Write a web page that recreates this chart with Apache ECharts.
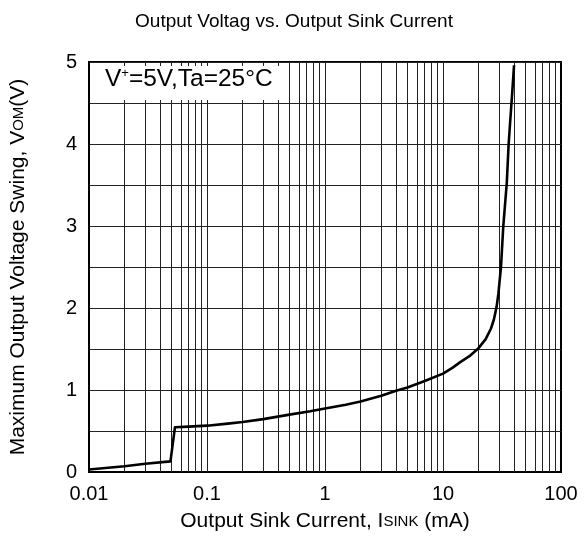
<!DOCTYPE html>
<html><head><meta charset="utf-8">
<script src="https://cdn.jsdelivr.net/npm/echarts@6/dist/echarts.min.js"></script>
<style>html,body{margin:0;padding:0;background:#fff}#c{width:584px;height:537px}</style>
</head><body><div id="c"></div>
<script>
const currentMA = [0.01, 0.02, 0.03, 0.049, 0.0535, 0.07, 0.1, 0.15, 0.2, 0.3, 0.5, 0.75, 1, 1.5, 2, 3, 4, 5, 7, 10, 12, 14, 17, 20, 23, 25.5, 27, 28.5, 29.5, 31, 32.4, 33.5, 34.7, 36, 37, 38.5, 40];
const voltageV  = [0.03, 0.07, 0.10, 0.13, 0.545, 0.553, 0.565, 0.59, 0.61, 0.645, 0.70, 0.74, 0.775, 0.82, 0.86, 0.93, 0.99, 1.03, 1.11, 1.20, 1.27, 1.34, 1.42, 1.51, 1.62, 1.75, 1.86, 2.02, 2.18, 2.50, 2.99, 3.25, 3.52, 4.00, 4.25, 4.60, 4.96];
const minorX = [];
[0.01, 0.1, 1, 10].forEach(d => { for (let k = 2; k <= 9; k++) minorX.push(+(d * k).toPrecision(3)); });
[0.1, 1, 10].forEach(v => minorX.push(v));
const xTickLabels = ['0.01', '0.1', '1', '10', '100'];

const chart = echarts.init(document.getElementById('c'), null, {renderer: 'canvas'});
const font = 'Liberation Sans, Arial, sans-serif';
chart.setOption({
  animation: false,
  backgroundColor: '#fff',
  title: {
    text: 'Output Voltag vs. Output Sink Current',
    left: 289, top: 7, textAlign: 'center',
    textStyle: {fontFamily: font, fontSize: 19, fontWeight: 'normal', color: '#000'}
  },
  grid: {left: 89, right: 23, top: 62, bottom: 65, show: true, borderColor: '#000', borderWidth: 2},
  xAxis: {
    type: 'log', logBase: 10, min: 0.01, max: 100,
    axisLine: {show: true, lineStyle: {color: '#000', width: 2}},
    axisTick: {show: false},
    splitLine: {show: false},
    axisLabel: {fontFamily: font, fontSize: 20, color: '#000', margin: 12,
      formatter: v => { const t = String(+v.toPrecision(3)); return xTickLabels.includes(t) ? t : ''; }},
    name: '{n|Output Sink Current, I}{s|SINK}{n| (mA)}',
    nameLocation: 'middle', nameGap: 39,
    nameTextStyle: {rich: {n: {fontFamily: font, fontSize: 21, color: '#000'}, s: {fontFamily: font, fontSize: 15, color: '#000'}}}
  },
  yAxis: {
    type: 'value', min: 0, max: 5, interval: 0.5,
    axisLine: {show: true, lineStyle: {color: '#000', width: 2}},
    axisTick: {show: false},
    splitLine: {show: true, lineStyle: {color: '#222', width: 1}},
    axisLabel: {fontFamily: font, fontSize: 20, color: '#000', margin: 12,
      formatter: v => (Math.abs(v - Math.round(v)) < 1e-6 ? String(Math.round(v)) : '')},
    name: '{n|Maximum Output Voltage Swing, V}{s|OM}{n|(V)}',
    nameLocation: 'middle', nameGap: 60,
    nameTextStyle: {rich: {n: {fontFamily: font, fontSize: 21, color: '#000'}, s: {fontFamily: font, fontSize: 15, color: '#000'}}}
  },
  graphic: [{
    type: 'rect', left: 90, top: 66, shape: {width: 195, height: 34}, style: {fill: '#fff'}, z: 10
  }, {
    type: 'text', left: 105, top: 67, z: 11,
    style: {
      text: '{a|V}{b|+}{a|=5V,Ta=25°C}',
      rich: {a: {fontFamily: font, fontSize: 24.5, fill: '#000', verticalAlign: 'bottom'}, b: {fontFamily: font, fontSize: 13, fill: '#000', verticalAlign: 'top'}}
    }
  }],
  series: [{
    type: 'line',
    data: currentMA.map((x, i) => [x, voltageV[i]]),
    showSymbol: false, smooth: false,
    lineStyle: {color: '#000', width: 2.6, join: 'round'},
    z: 5,
    markLine: {
      silent: true, symbol: 'none', label: {show: false},
      lineStyle: {color: '#222', width: 1, type: 'solid'},
      data: minorX.map(v => ({xAxis: v})),
      z: 1
    }
  }]
});
</script></body></html>
